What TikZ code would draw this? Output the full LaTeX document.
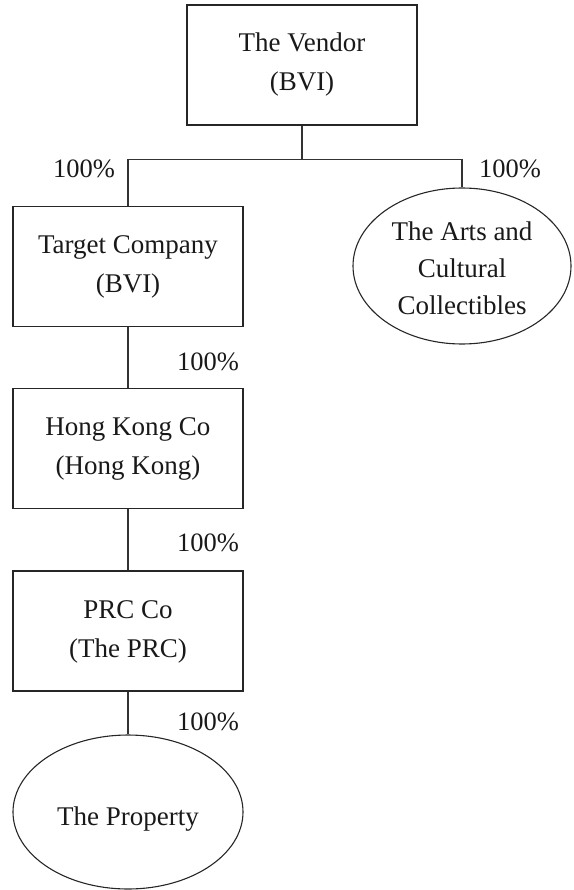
\documentclass[tikz,border=0pt]{standalone}
\usepackage{fontspec}
\setmainfont{Liberation Serif}
\usetikzlibrary{shapes.geometric}
\begin{document}
\begin{tikzpicture}[x=1pt,y=-1pt,
  box/.style={draw=black!85, line width=1.1pt, minimum width=230pt, minimum height=120pt, inner sep=0pt, align=center, font=\fontsize{27}{39}\selectfont, text=black!90},
  oval/.style={draw=black!85, line width=1.1pt, ellipse, inner sep=0pt},
  txt/.style={align=center, font=\fontsize{27}{37}\selectfont, text=black!90},
  pct/.style={font=\fontsize{26.5}{30}\selectfont, text=black!90, inner sep=0pt},
  conn/.style={draw=black!80, line width=1.1pt}]
\useasboundingbox (0,0) rectangle (573,890);
\node[box, text depth=6pt] (vendor) at (302,65) {The Vendor\\(BVI)};
\node[box, text depth=4pt] (target) at (128,266.5) {Target Company\\(BVI)};
\node[box, text depth=4pt] (hk) at (128,448.5) {Hong Kong Co\\(Hong Kong)};
\node[box, text depth=4pt] (prc) at (128,631) {PRC Co\\(The PRC)};
\node[oval, minimum width=218pt, minimum height=156pt] (arts) at (462,266) {};
\node[txt] (artstxt) at (462,268) {The Arts and\\Cultural\\Collectibles};
\node[oval, minimum width=230pt, minimum height=154pt] (prop) at (128,812) {};
\node[txt] (proptxt) at (128,819) {The Property};
\draw[conn] (vendor.south) -- ++(0,34) coordinate (j);
\draw[conn] (target.north) |- (j) -| (arts.north);
\draw[conn] (target.south) -- (hk.north);
\draw[conn] (hk.south) -- (prc.north);
\draw[conn] (prc.south) -- (prop.north);
\node[pct] (p1) at (84,169) {100\%};
\node[pct] (p2) at (510,169) {100\%};
\node[pct] (p3) at (208,362) {100\%};
\node[pct] (p4) at (208,543) {100\%};
\node[pct] (p5) at (208,722) {100\%};
\end{tikzpicture}
\end{document}
